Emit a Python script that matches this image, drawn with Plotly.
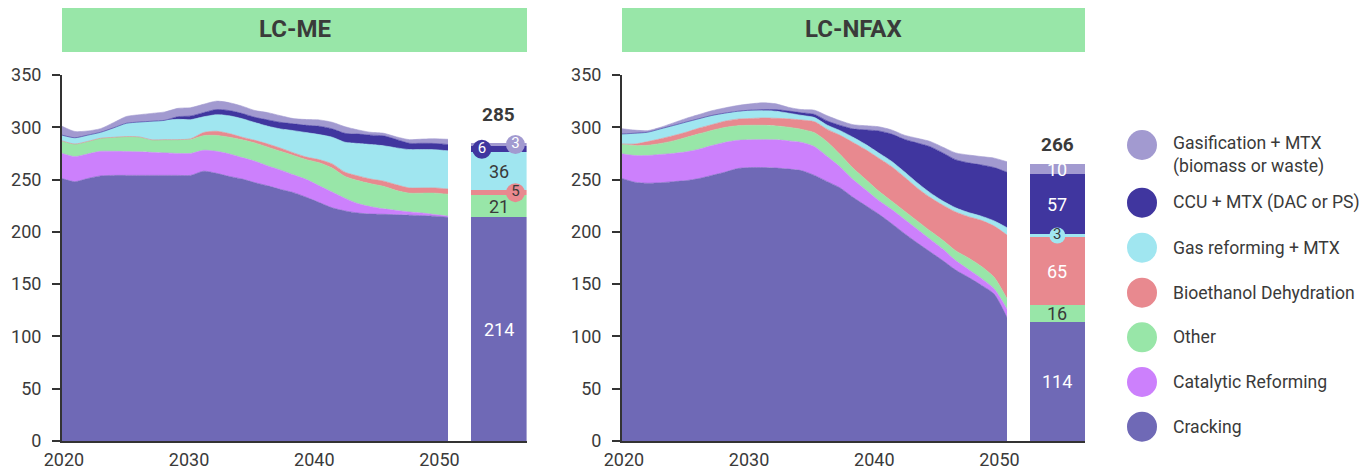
import plotly.graph_objects as go

# the page body keeps the browser's default 8px margin
PAGE_MARGIN = 8
W, H = 1370 - PAGE_MARGIN, 472 - PAGE_MARGIN

# ---------------- data ----------------
years = list(range(2020, 2051))

series_names = ["Cracking", "Catalytic Reforming", "Other", "Bioethanol Dehydration",
                "Gas reforming + MTX", "CCU + MTX (DAC or PS)",
                "Gasification + MTX (biomass or waste)"]
legend_labels = ["Cracking", "Catalytic Reforming", "Other", "Bioethanol Dehydration",
                 "Gas reforming + MTX", "CCU + MTX (DAC or PS)",
                 "Gasification + MTX<br>(biomass or waste)"]
colors = ["#6f69b6", "#cc80fc", "#98e6a8", "#e8898f", "#a0e6f0", "#40369f", "#a29ad0"]

panel_titles = ["LC-ME", "LC-NFAX"]

# LC-ME
cracking_me = [251, 248, 251, 253.5, 254, 254, 254, 254, 254, 254, 254,
               258, 256, 253, 250.5, 247, 244, 240.5, 237.5, 233, 228,
               223, 220, 218, 217, 216.8, 216.3, 216, 215.5, 215, 214]
catalytic_me = [24, 24, 23.5, 23.5, 23, 22.8, 22.5, 22, 21.5, 21, 21,
                20, 21, 21.5, 20.5, 20.5, 19, 18.5, 17, 17, 16,
                15, 12, 9, 7, 5.2, 4.2, 3, 2.5, 1.5, 1]
other_me = [12, 12, 12, 12.5, 13.4, 14.3, 14.3, 12, 12.7, 13.2, 13.5,
            14, 15.2, 16, 17, 17.5, 18, 18, 18.5, 19, 22,
            23, 21, 22, 22, 21.5, 19, 18, 19, 20.5, 21]
bio_me = [0, 0, 0, 0, 0, 0, 0, 0, 0, 0, 0.5,
          3, 4, 3.5, 2.5, 2.5, 3, 3, 2.5, 2.5, 3,
          4, 4, 4.5, 4.5, 5, 5.5, 5, 5, 5, 5]
gas_me = [5.5, 6, 6, 5.7, 9, 12.7, 14.2, 17.8, 18.5, 19.4, 18.3,
          15, 15.8, 17, 17.7, 17, 17, 18.4, 21.3, 23.4, 24,
          25.5, 28.7, 31, 33, 33.8, 35.3, 36.7, 36.7, 36.5, 36.5]
ccu_me = [0, 0, 0, 0, 0, 0, 0, 0, 0, 2.5, 3.5,
          4, 5, 5, 5, 5, 6, 6.3, 6.5, 7, 8,
          8, 8.5, 9, 9, 9.5, 8, 6, 6, 6, 6]
gasif_me = [8.5, 6, 4, 3.5, 5, 6.5, 7, 7.5, 8, 8, 8,
            8, 8, 7.5, 7, 6.5, 7, 6.3, 5, 5.5, 6,
            6.3, 6.3, 4, 2.7, 2.5, 2.5, 3.5, 4, 4.5, 5]

# LC-NFAX
cracking_nf = [251, 247.5, 246.5, 247, 248, 249, 251, 254, 257, 260.5, 261.5,
               261.5, 261, 260, 258.5, 254, 248, 242, 233, 225, 217,
               208, 198.5, 189.5, 181, 172.5, 163.5, 156.5, 149, 140.5, 118]
catalytic_nf = [23.6, 25.5, 26.5, 27, 27, 27.5, 28, 28.5, 28.5, 27, 26.5,
                26.7, 27, 27, 27, 27.5, 24, 20, 17, 15, 13,
                13.5, 13.5, 13, 12, 11, 9, 7.5, 6.5, 5, 8]
other_nf = [9.5, 9.5, 9.8, 10.5, 12, 13.8, 14.7, 14.5, 14.3, 14, 13.9,
            13.7, 13.3, 13, 12.5, 13.3, 14, 12, 11, 10, 9,
            8, 8, 8, 8, 8.5, 9.5, 11, 11.5, 11, 10]
bio_nf = [0, 1.5, 3.5, 4.5, 5, 5, 5.5, 5.5, 6, 6.3, 6.5,
          7, 7.3, 8, 9, 10.5, 12, 18.3, 24.5, 28.5, 31.5,
          33, 32.5, 31.5, 32, 33.5, 37, 39.5, 44, 49, 61]
gas_nf = [9.5, 10.3, 9, 9.5, 9.7, 9.7, 9, 8.8, 7.7, 7.5, 7.5,
          7, 6.8, 5.5, 4.4, 4, 4, 4.5, 5, 5, 5,
          5, 5, 5, 4.5, 4, 4, 4, 4, 5, 7]
ccu_nf = [0, 0, 0, 0, 0, 0, 0, 0, 0, 0, 0.5,
          1, 1.5, 2, 2.5, 3, 4, 5, 8, 14, 21,
          26, 31, 38, 44, 46, 46, 47.5, 49, 51, 53]
gasif_nf = [5, 3, 1.5, 1.5, 2.5, 3.5, 4, 4.5, 5, 5.5, 6,
            6.5, 5.5, 3.5, 3, 4, 5, 4.5, 4, 4, 4,
            4, 4, 4.5, 5, 5.5, 6.5, 7.5, 8, 9, 10]

# 2050 bars (order as series_names)
bar_me = [214, 0, 21, 5, 36, 6, 3]
bar_nf = [114, 0, 16, 65, 3, 57, 10]
bar_totals = [285, 266]

x_ticks = [2020, 2030, 2040, 2050]
y_ticks = [0, 50, 100, 150, 200, 250, 300, 350]

areas = [
    [cracking_me, catalytic_me, other_me, bio_me, gas_me, ccu_me, gasif_me],
    [cracking_nf, catalytic_nf, other_nf, bio_nf, gas_nf, ccu_nf, gasif_nf],
]
bars = [bar_me, bar_nf]

# ---------------- styling ----------------
FONT = "Roboto"
TXT = "#3a3a3a"
AXC = "#333333"
label_colors = ["white", "white", TXT, "white", TXT, "white", "white"]
circle_text_colors = ["white", "white", TXT, TXT, TXT, "white", "white"]
# horizontal position of small-value circles inside each bar (-0.5..0.5)
circle_pos = [{3: 0.3, 5: -0.3, 6: 0.3}, {4: 0.0}]
circle_size = [19, 16]
total_shift = [15, 5]


def fx(px):
    """window pixel -> paper fraction"""
    return (px - PAGE_MARGIN) / W


def fy(py):
    return 1 - (py - PAGE_MARGIN) / H


# panel geometry (window pixels)
panels = [
    dict(x0=62, area_end=448, bar0=470.7, bar1=526.6, x1=527),
    dict(x0=622, area_end=1007, bar0=1029.7, bar1=1085, x1=1085),
]
px_per_year = 12.52
tick_origin = 2019.85

fig = go.Figure()
layout = dict(
    width=W, height=H,
    margin=dict(l=0, r=0, t=0, b=0, pad=0, autoexpand=False),
    paper_bgcolor="white", plot_bgcolor="rgba(0,0,0,0)",
    barmode="stack", bargap=0,
    showlegend=False,
    font=dict(family=FONT, color=TXT, size=18),
    shapes=[], annotations=[],
)

for p, g in enumerate(panels):
    xa = "x" if p == 0 else "x4"
    xb = "x2" if p == 0 else "x5"
    xt = "x3" if p == 0 else "x6"
    ya = "y" if p == 0 else "y2"
    key = lambda a: "xaxis" + a[1:] if len(a) > 1 else "xaxis"

    layout[key(xa)] = dict(domain=[fx(g["x0"]), fx(g["area_end"])], range=[2020, 2050],
                          visible=False, anchor=ya, fixedrange=True, automargin=False)
    layout[key(xb)] = dict(domain=[fx(g["bar0"]), fx(g["bar1"])], range=[-0.5, 0.5],
                          visible=False, anchor=ya, fixedrange=True, automargin=False)
    layout[key(xt)] = dict(
        domain=[fx(g["x0"]), fx(g["x1"])],
        range=[tick_origin, tick_origin + (g["x1"] - g["x0"]) / px_per_year],
        anchor=ya, showline=True, linecolor=AXC, linewidth=2,
        ticks="", tickvals=x_ticks, ticktext=[str(t) for t in x_ticks],
        tickfont=dict(size=18, color=TXT, family=FONT),
        showgrid=False, zeroline=False, ticklabelstandoff=1, automargin=False,
    )
    ykey = "yaxis" if p == 0 else "yaxis2"
    layout[ykey] = dict(
        domain=[fy(441), fy(75)], range=[0, 350], anchor=xt,
        showline=True, linecolor=AXC, linewidth=2,
        ticks="outside", ticklen=8, tickwidth=2, tickcolor=AXC,
        tickvals=y_ticks, tickfont=dict(size=18, color=TXT, family=FONT),
        showgrid=False, zeroline=False, ticklabelstandoff=7, automargin=False,
    )

    # stacked areas
    for i, vals in enumerate(areas[p]):
        fig.add_trace(go.Scatter(
            x=years, y=vals, xaxis=xa, yaxis=ya, stackgroup="s%d" % p,
            mode="lines", line=dict(width=0.6, color=colors[i], shape="spline", smoothing=0.7),
            fillcolor=colors[i], hoverinfo="skip", showlegend=False,
        ))

    # 2050 bar
    cum = 0
    cx, cy, ct, cc, ctc = [], [], [], [], []
    for i, v in enumerate(bars[p]):
        fig.add_trace(go.Bar(
            x=[0], y=[v], width=[1], xaxis=xb, yaxis=ya,
            marker=dict(color=colors[i], line=dict(width=0)),
            hoverinfo="skip", showlegend=False,
        ))
        mid = cum + v / 2
        if v >= 10:
            layout["annotations"].append(dict(
                xref=xb, yref=ya, x=0, y=mid, text=str(v), showarrow=False,
                xanchor="center", yanchor="middle",
                font=dict(size=18, color=label_colors[i], family=FONT),
            ))
        elif v > 0:
            cx.append(circle_pos[p].get(i, 0.0))
            cy.append(mid)
            ct.append(str(v))
            cc.append(colors[i])
            ctc.append(circle_text_colors[i])
        cum += v
    fig.add_trace(go.Scatter(
        x=cx, y=cy, xaxis=xb, yaxis=ya, mode="markers+text",
        marker=dict(size=circle_size[p], color=cc, line=dict(width=0)),
        text=ct, textposition="middle center",
        textfont=dict(size=15, color=ctc, family=FONT),
        hoverinfo="skip", showlegend=False, cliponaxis=False,
    ))
    layout["annotations"].append(dict(
        xref=xb, yref=ya, x=0, y=bar_totals[p], text="<b>%d</b>" % bar_totals[p],
        showarrow=False, xanchor="center", yanchor="bottom", yshift=total_shift[p],
        font=dict(size=19, color=TXT, family=FONT),
    ))

    # invisible anchor trace for the tick axis
    fig.add_trace(go.Scatter(x=[2020, 2050], y=[None, None], xaxis=xt, yaxis=ya,
                             mode="lines", hoverinfo="skip", showlegend=False))

    # header box
    layout["shapes"].append(dict(
        type="rect", xref="paper", yref="paper",
        x0=fx(g["x0"]), x1=fx(g["x1"]), y0=fy(52), y1=fy(6),
        fillcolor="#98e6a8", line=dict(width=0), layer="below",
    ))
    layout["annotations"].append(dict(
        xref="paper", yref="paper", x=fx((g["x0"] + g["x1"]) / 2), y=fy(29),
        xanchor="center", yanchor="middle",
        text="<b>%s</b>" % panel_titles[p], showarrow=False,
        font=dict(size=24, color=TXT, family=FONT),
    ))

# manual legend (top to bottom)
legend_order = [6, 5, 4, 3, 2, 1, 0]
legend_y = [145, 202.7, 247.7, 292.7, 337.3, 382, 426.7]
for k, i in enumerate(legend_order):
    cyp = legend_y[k]
    layout["shapes"].append(dict(
        type="circle", xref="paper", yref="paper",
        x0=fx(1127), x1=fx(1157), y0=fy(cyp + 15), y1=fy(cyp - 15),
        fillcolor=colors[i], line=dict(width=0),
    ))
    ty = cyp + 10 if "<br>" in legend_labels[i] else cyp
    layout["annotations"].append(dict(
        xref="paper", yref="paper", x=fx(1171), y=fy(ty), xanchor="left", yanchor="middle",
        align="left", text=legend_labels[i], showarrow=False,
        font=dict(size=17.6, color=TXT, family=FONT),
    ))

fig.update_layout(**layout)
fig.write_html("out.html")
